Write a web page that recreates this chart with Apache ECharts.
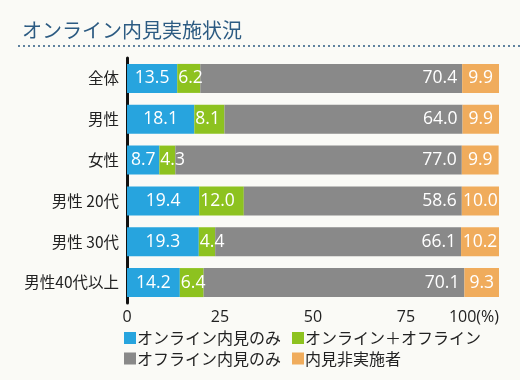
<!DOCTYPE html>
<html><head><meta charset="utf-8">
<script src="https://cdn.jsdelivr.net/npm/echarts@6/dist/echarts.min.js"></script>
<style>html,body{margin:0;padding:0;background:#fafaf6;}#c{width:520px;height:380px;}</style>
</head><body><div id="c"></div>
<script>
const categories = ['全体','男性','女性','男性 20代','男性 30代','男性40代以上'];
const onlineOnly = [13.5,18.1,8.7,19.4,19.3,14.2];
const onlineOffline = [6.2,8.1,4.3,12.0,4.4,6.4];
const offlineOnly = [70.4,64.0,77.0,58.6,66.1,70.1];
const none = [9.9,9.9,9.9,10.0,10.2,9.3];
const seriesNames = ['オンライン内見のみ','オンライン＋オフライン','オフライン内見のみ','内見非実施者'];
const tickLabels = {0:'0',25:'25',50:'50',75:'75',100:'100(%)'};
const font = '"Noto Sans CJK JP","Open Sans",sans-serif';
const colors = ['#27a4de','#8dc21f','#898989','#f0ac5c'];
const chart = echarts.init(document.getElementById('c'), null, {renderer:'canvas'});
function lbl(pos, dx){
  return {show:true, position:pos, offset:[dx||0,0], color:'#fff', fontSize:17.5, fontFamily:'"Open Sans",sans-serif',
    formatter:p=>p.value.toFixed(1)};
}
const datas=[onlineOnly,onlineOffline,offlineOnly,none];
const pos=[['inside',0],['insideLeft',-4],['insideRight',0],['inside',0]];
function leg(left, names){
  return {left:left, top:330, orient:'vertical', padding:0, itemGap:4.5, itemWidth:12, itemHeight:12, icon:'rect',
    textStyle:{fontSize:16,lineHeight:16,color:'#222',fontFamily:font,padding:[0,0,0,-4]}, data:names};
}
chart.setOption({
  backgroundColor:'#fafaf6',
  animation:false,
  title:{text:'オンライン内見実施状況',left:17,top:15,textStyle:{color:'#2c5b82',fontSize:20,fontWeight:'normal',fontFamily:font}},
  graphic:[{type:'line',shape:{x1:18,y1:46,x2:520,y2:46},style:{stroke:'#2c5b82',lineWidth:1.5,lineDash:[2,3]}}],
  legend:[leg(124,[seriesNames[0],seriesNames[2]]), leg(292,[seriesNames[1],seriesNames[3]])],
  grid:{left:127,right:21,top:58,bottom:77},
  xAxis:{type:'value',min:0,max:100,interval:25,splitLine:{show:false},axisLine:{show:false},axisTick:{show:false},
    axisLabel:{fontSize:16,color:'#222',fontFamily:'"Open Sans",sans-serif',margin:6,alignMaxLabel:'right',formatter:v=>tickLabels[v]}},
  yAxis:{type:'category',inverse:true,data:categories,axisTick:{show:false},
    axisLine:{show:true,lineStyle:{color:'#111',width:3}},
    axisLabel:{fontSize:15.5,color:'#222',fontFamily:font,margin:8}},
  series:datas.map((d,i)=>({name:seriesNames[i],type:'bar',stack:'s',data:d,barWidth:29,
    itemStyle:{color:colors[i]},label:lbl(pos[i][0],pos[i][1])}))
});
</script></body></html>
